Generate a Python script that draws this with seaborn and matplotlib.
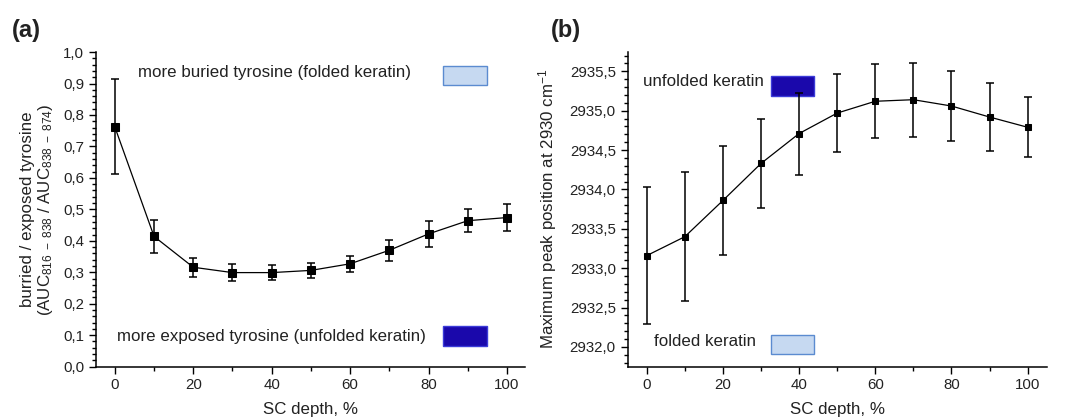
import numpy as np
import pandas as pd
import matplotlib
matplotlib.use("Agg")
import matplotlib.pyplot as plt
from matplotlib.ticker import MultipleLocator, FuncFormatter
from matplotlib.patches import Rectangle
import seaborn as sns

# ---- data ----
depth = [0, 10, 20, 30, 40, 50, 60, 70, 80, 90, 100]
ratio = [0.762, 0.414, 0.316, 0.299, 0.299, 0.306, 0.327, 0.370, 0.422, 0.464, 0.474]
ratio_err = [0.151, 0.052, 0.031, 0.028, 0.024, 0.025, 0.025, 0.034, 0.041, 0.037, 0.042]
peak = [2933.16, 2933.40, 2933.86, 2934.33, 2934.71, 2934.97, 2935.12, 2935.14, 2935.06, 2934.92, 2934.79]
peak_err = [0.87, 0.82, 0.69, 0.56, 0.52, 0.49, 0.47, 0.47, 0.45, 0.43, 0.38]

sns.set_style("ticks")
plt.rcParams['font.family'] = ['Liberation Sans', 'DejaVu Sans']
plt.rcParams['mathtext.fontset'] = 'custom'
plt.rcParams['mathtext.rm'] = 'Liberation Sans'
plt.rcParams['mathtext.it'] = 'Liberation Sans'
plt.rcParams['xtick.direction'] = 'out'
plt.rcParams['ytick.direction'] = 'out'

fig = plt.figure(figsize=(10.68, 4.2), dpi=100)
ax1 = fig.add_axes([0.0899, 0.127, 0.4017, 0.749])
ax2 = fig.add_axes([0.5877, 0.127, 0.3923, 0.750])

dfa = pd.DataFrame({"depth": depth, "val": ratio})
dfb = pd.DataFrame({"depth": depth, "val": peak})

tc = "#222222"
lab_fs = 12.2

def comma1(v, p):
    return f"{v:.1f}".replace(".", ",")

for ax, df, err, ms, cs in [(ax1, dfa, ratio_err, 6.2, 3.0), (ax2, dfb, peak_err, 4.8, 3.0)]:
    ax.errorbar(df["depth"], df["val"], yerr=err, fmt='none', ecolor='black',
                elinewidth=1.1, capsize=cs, capthick=1.1, zorder=2)
    sns.lineplot(data=df, x="depth", y="val", ax=ax, color='black', lw=0.9,
                 marker='s', markersize=ms, markeredgecolor='black',
                 markerfacecolor='black', zorder=3)
    for s in ['top', 'right']:
        ax.spines[s].set_visible(False)
    for s in ['left', 'bottom']:
        ax.spines[s].set_linewidth(1.1)
        ax.spines[s].set_color('black')
    ax.xaxis.set_major_locator(MultipleLocator(20))
    ax.xaxis.set_minor_locator(MultipleLocator(10))
    ax.tick_params(which='major', length=5, width=1, labelsize=10.8, colors='black', labelcolor=tc)
    ax.tick_params(which='minor', length=3, width=1, colors='black')
    ax.set_xlabel("SC depth, %", fontsize=lab_fs, color=tc, labelpad=7)
    ax.yaxis.set_major_formatter(FuncFormatter(comma1))

# panel a
ax1.set_xlim(-4.8, 104.6)
ax1.set_ylim(0, 1.0)
ax1.yaxis.set_major_locator(MultipleLocator(0.1))
ax1.yaxis.set_minor_locator(MultipleLocator(0.02))
ax1.set_ylabel("burried / exposed tyrosine\n(AUC$_{816\\ -\\ 838}$ / AUC$_{838\\ -\\ 874}$)",
               fontsize=lab_fs, color=tc, linespacing=1.05, labelpad=6)

ax1.text(0.097, 0.935, "more buried tyrosine (folded keratin)", transform=ax1.transAxes,
         fontsize=lab_fs, color=tc, va='center', ha='left')
ax1.text(0.049, 0.095, "more exposed tyrosine (unfolded keratin)", transform=ax1.transAxes,
         fontsize=lab_fs, color=tc, va='center', ha='left')
ax1.add_patch(Rectangle((0.808, 0.895), 0.103, 0.06, transform=ax1.transAxes,
                        facecolor='#c6d9f1', edgecolor='#5b8bd0', lw=1, clip_on=False))
ax1.add_patch(Rectangle((0.808, 0.067), 0.103, 0.063, transform=ax1.transAxes,
                        facecolor='#1a08ab', edgecolor='#3b3bd8', lw=1, clip_on=False))

# panel b
ax2.set_xlim(-5, 105)
ax2.set_ylim(2931.75, 2935.75)
ax2.yaxis.set_major_locator(MultipleLocator(0.5))
ax2.yaxis.set_minor_locator(MultipleLocator(0.1))
ax2.set_ylabel("Maximum peak position at 2930 cm$^{-1}$", fontsize=lab_fs, color=tc, labelpad=8)

ax2.text(0.036, 0.905, "unfolded keratin", transform=ax2.transAxes,
         fontsize=lab_fs, color=tc, va='center', ha='left')
ax2.text(0.062, 0.080, "folded keratin", transform=ax2.transAxes,
         fontsize=lab_fs, color=tc, va='center', ha='left')
ax2.add_patch(Rectangle((0.341, 0.860), 0.103, 0.064, transform=ax2.transAxes,
                        facecolor='#1a08ab', edgecolor='#3b3bd8', lw=1, clip_on=False))
ax2.add_patch(Rectangle((0.341, 0.040), 0.103, 0.062, transform=ax2.transAxes,
                        facecolor='#c6d9f1', edgecolor='#5b8bd0', lw=1, clip_on=False))

fig.text(0.011, 0.913, "(a)", fontsize=17, fontweight='bold', color=tc)
fig.text(0.516, 0.913, "(b)", fontsize=17, fontweight='bold', color=tc)

fig.savefig("out.png", dpi=100)
